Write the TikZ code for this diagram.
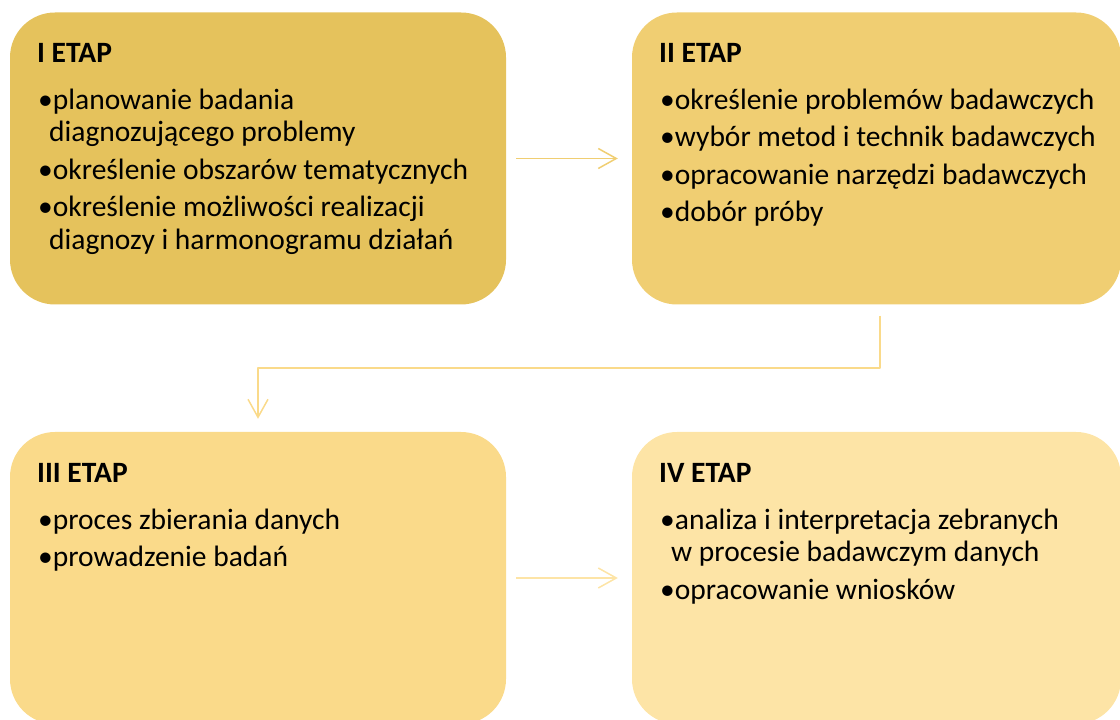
\documentclass[tikz,border=0pt]{standalone}
\usepackage{fontspec}
\setmainfont{Carlito}
\usepackage{tikz}
\usetikzlibrary{arrows.meta}

\definecolor{etapone}{RGB}{229,194,92}
\definecolor{etaptwo}{RGB}{240,206,114}
\definecolor{etapthree}{RGB}{250,218,138}
\definecolor{etapfour}{RGB}{253,228,166}

\begin{document}
\begin{tikzpicture}[>={Straight Barb[length=18bp,width=20bp]},line join=bevel,
  stage/.style={rectangle,
                rounded corners=45bp,
                minimum width=#1,
                minimum height=292bp,
                inner sep=0pt},
  stagetitle/.style={anchor=base west,inner sep=0pt,
                     font=\bfseries\fontsize{29.5bp}{32.5bp}\selectfont},
  itemlist/.style={anchor=north west,inner sep=0pt,align=left,
                   font=\fontsize{29.5bp}{32.5bp}\selectfont},
  flow/.style={line width=1.5bp},
  ]
\clip (0bp,0bp) rectangle (1120bp,720bp);
\useasboundingbox (0bp,0bp) rectangle (1120bp,720bp);
%%
  \node (etap1) at (258.0bp,561.5bp) [stage=496bp,fill=etapone] {};
  \node (etap2) at (876.5bp,561.5bp) [stage=489bp,fill=etaptwo] {};
  \node (etap3) at (258.0bp,142.0bp) [stage=496bp,fill=etapthree] {};
  \node (etap4) at (876.5bp,142.0bp) [stage=489bp,fill=etapfour] {};

  \node (etap1_title) at (37bp,657bp) [stagetitle] {I ETAP};
  \node (etap2_title) at (659bp,657bp) [stagetitle] {II ETAP};
  \node (etap3_title) at (37bp,237bp) [stagetitle] {III ETAP};
  \node (etap4_title) at (659bp,237bp) [stagetitle] {IV ETAP};

  \node (etap1_list) at (38bp,635bp) [itemlist] {\rule{0pt}{24bp}•planowanie badania\\
    \hspace{11bp}diagnozującego problemy\\[5bp]
    •określenie obszarów tematycznych\\[5bp]
    •określenie możliwości realizacji\\
    \hspace{11bp}diagnozy i harmonogramu działań};
  \node (etap2_list) at (660bp,635bp) [itemlist] {\rule{0pt}{24bp}•określenie problemów badawczych\\[5bp]
    •wybór metod i technik badawczych\\[5bp]
    •opracowanie narzędzi badawczych\\[5bp]
    •dobór próby};
  \node (etap3_list) at (38bp,215bp) [itemlist] {\rule{0pt}{24bp}•proces zbierania danych\\[5bp]
    •prowadzenie badań};
  \node (etap4_list) at (660bp,215bp) [itemlist] {\rule{0pt}{24bp}•analiza i interpretacja zebranych\\
    \hspace{11bp}w procesie badawczym danych\\[5bp]
    •opracowanie wniosków};

  \coordinate (bend1) at (880bp,352bp);
  \coordinate (bend2) at (258bp,352bp);
  \draw [flow,draw=etaptwo,->] ([xshift=10bp]etap1.east) -- ([xshift=-14bp]etap2.west |- etap1.east);
  \draw [flow,draw=etapthree,->] (etap2.south -| bend1) ++(0,-11bp) -- (bend1) -- (bend2) -- ([yshift=13bp]etap3.north);
  \draw [flow,draw=etapfour,->] ([xshift=10bp]etap3.east) -- ([xshift=-14bp]etap4.west |- etap3.east);
%
\end{tikzpicture}
\end{document}
